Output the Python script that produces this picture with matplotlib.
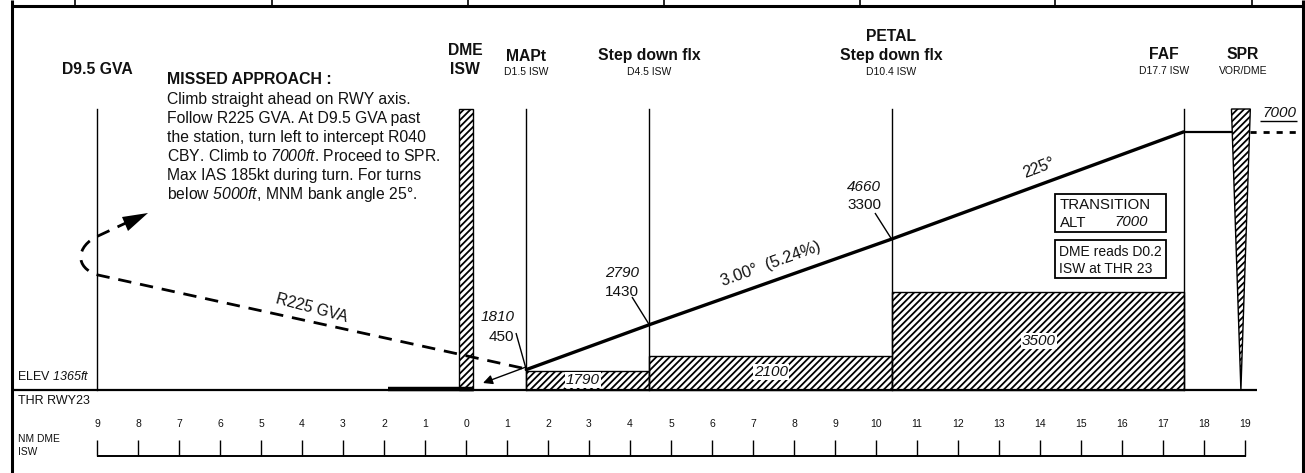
import matplotlib
matplotlib.use('Agg')
import matplotlib.pyplot as plt
from matplotlib.patches import PathPatch, Polygon, Rectangle
from matplotlib.path import Path
from matplotlib.transforms import Affine2D

plt.rcParams['font.family'] = ['Liberation Sans', 'DejaVu Sans']
plt.rcParams['mathtext.fontset'] = 'custom'
plt.rcParams['mathtext.rm'] = 'Liberation Sans'
plt.rcParams['mathtext.it'] = 'Liberation Sans:italic'
plt.rcParams['mathtext.cal'] = 'Liberation Sans:italic'  # \mathit keeps digits upright, \mathcal does not
plt.rcParams['mathtext.bf'] = 'Liberation Sans:bold'
plt.rcParams['hatch.linewidth'] = 1.3

W, H = 1305, 473

# distances in NM from ISW (negative = past the station), altitudes in ft
elev = 1365
fix_dist = [1.47, 4.47, 10.38, 17.5]
fix_alt = [1810, 2790, 4660, 7000]
fix_height = [450, 1430, 3300]
spr_dist = 18.9
d95_dist = -9
dme_dist = 0

# obstacle clearance steps
step_from = [1.47, 4.47, 10.38]
step_to = [4.47, 10.38, 17.5]
step_alt = [1790, 2100, 3500]

ruler_labels = [9, 8, 7, 6, 5, 4, 3, 2, 1, 0, 1, 2, 3, 4, 5, 6, 7, 8, 9, 10, 11, 12, 13, 14, 15, 16, 17, 18, 19]
ruler_dist = list(range(-9, 20))

top_cells = [75, 272, 468, 664, 860, 1055, 1252]

missed_text = ["Climb straight ahead on RWY axis.",
               "Follow R225 GVA. At D9.5 GVA past",
               "the station, turn left to intercept R040",
               r"CBY. Climb to $\mathcal{7000ft}$. Proceed to SPR.",
               "Max IAS 185kt during turn. For turns",
               r"below $\mathcal{5000ft}$, MNM bank angle 25°."]

# scale of the profile: 41 px per NM, 0.0458 px per ft
fig = plt.figure(figsize=(W / 100, H / 100), dpi=100)
ax = fig.add_axes([0, 0, 1, 1])
ax.set_xlim(-466 / 41, (W - 466) / 41)
ax.set_ylim(elev - (H - 390) / 0.0458, elev + 390 / 0.0458)
ax.axis('off')

# pixel coordinates for layout stuff (y downwards)
px = Affine2D().scale(1, -1).translate(0, H)


def line(xs, ys, lw=1.0, **kw):
    ax.plot(xs, ys, color='black', lw=lw, transform=px, solid_capstyle='butt', clip_on=False, **kw)


def txt(x, y, s, size=10, ha='center', **kw):
    ax.text(x, y, s, fontsize=size, ha=ha, va='center', transform=px, color='#111111', **kw)


# frame
line([12, 1303], [6, 6], lw=2.2)
line([12, 12], [0, 473], lw=2.2)
line([1303, 1303], [0, 473], lw=2.2)
for c in top_cells:
    line([c, c], [0, 6], lw=1.2)

# ground line and the runway
top_y = elev + (390 - 109) / 0.0458
ax.plot([-11.08, 19.3], [elev, elev], color='black', lw=1.6, solid_capstyle='butt')
ax.plot([-1.9, 0.2], [elev + 20, elev + 20], color='black', lw=3.2, solid_capstyle='butt', zorder=4)

# vertical fix lines
for d in [d95_dist] + fix_dist:
    ax.plot([d, d], [elev, top_y], color='black', lw=1.0)

# hatched obstacle steps
for a, b, alt in zip(step_from, step_to, step_alt):
    ax.add_patch(Rectangle((a, elev), b - a, alt - elev, facecolor='white', edgecolor='black',
                           hatch='/////', lw=1.0))

# hatched DME and SPR towers
ax.add_patch(Rectangle((dme_dist - 0.17, elev), 0.34, top_y - elev, facecolor='white', edgecolor='black',
                       hatch='/////', lw=1.0, zorder=2))
ax.add_patch(Polygon([(spr_dist - 0.23, top_y), (spr_dist + 0.23, top_y), (spr_dist, elev)], closed=True,
                     facecolor='white', edgecolor='black', hatch='/////', lw=1.0, zorder=2))

# descent profile
ax.plot(fix_dist, fix_alt, color='black', lw=2.4, zorder=4, solid_capstyle='round')
ax.plot([fix_dist[-1], spr_dist - 0.23], [fix_alt[-1], fix_alt[-1]], color='black', lw=1.6, zorder=4)
ax.plot([spr_dist + 0.23, 20.45], [fix_alt[-1], fix_alt[-1]], color='black', lw=2.0,
        dashes=(2.2, 2.5), zorder=4)

# missed approach path
verts = [(522, 368), (98, 275), (74, 268), (76, 246), (98, 236), (128, 222)]
codes = [Path.MOVETO, Path.LINETO, Path.CURVE4, Path.CURVE4, Path.CURVE4, Path.LINETO]
ax.add_patch(PathPatch(Path(verts, codes), transform=px, facecolor='none', edgecolor='black', lw=2.0,
                       linestyle=(0, (4.8, 3.2)), zorder=5, clip_on=False))
ax.add_patch(Polygon([(148, 213), (122, 217), (128, 231)], closed=True, transform=px, facecolor='black',
                     edgecolor='none', zorder=5))
ax.annotate('', xy=(483, 383), xytext=(526, 367), xycoords=px, textcoords=px,
            arrowprops=dict(arrowstyle='-|>', color='black', lw=1.0, mutation_scale=14, shrinkA=0, shrinkB=0))

# ruler
for d, lab in zip(ruler_dist, ruler_labels):
    x = 466 + 41 * d
    line([x, x], [440, 456], lw=1.0)
    txt(x, 424, str(lab), size=7.5)
line([97, 1246], [456, 456], lw=1.4)

# headers
bold = dict(size=11.3, fontweight='bold')
small = 7.5
txt(97, 69, 'D9.5 GVA', **bold)
txt(465, 50, 'DME', **bold)
txt(465, 69, 'ISW', **bold)
txt(526, 56, 'MAPt', **bold)
txt(526, 72, 'D1.5 ISW', size=small)
txt(649, 55, 'Step down flx', **bold)
txt(649, 72, 'D4.5 ISW', size=small)
txt(891, 36, 'PETAL', **bold)
txt(891, 55, 'Step down flx', **bold)
txt(891, 72, 'D10.4 ISW', size=small)
txt(1164, 54, 'FAF', **bold)
txt(1164, 71, 'D17.7 ISW', size=small)
txt(1243, 54, 'SPR', **bold)
txt(1243, 71, 'VOR/DME', size=small)

# missed approach note
txt(167, 79, 'MISSED APPROACH :', size=11.4, ha='left', fontweight='bold')
for i, s in enumerate(missed_text):
    txt(167, 99 + i * 19, s, size=11.3, ha='left')

# altitude labels with leaders
label_pos = [(498, 317, 501, 337), (622, 273, 622, 292), (864, 187, 864, 205)]
leaders = [(516, 333), (632, 297), (875, 213)]
for i in range(3):
    x1, y1, x2, y2 = label_pos[i]
    txt(x1, y1, str(fix_alt[i]), size=11, style='italic')
    txt(x2, y2, str(fix_height[i]), size=11)
    line([leaders[i][0], 466 + 41 * fix_dist[i]], [leaders[i][1], 390 - (fix_alt[i] - elev) * 0.0458], lw=1.0)

# step altitudes
white = dict(facecolor='white', edgecolor='none', pad=1.0)
txt(583, 380, str(step_alt[0]), size=11, style='italic', bbox=white, zorder=6)
txt(771, 372, str(step_alt[1]), size=11, style='italic', bbox=white, zorder=6)
txt(1039, 341, str(step_alt[2]), size=11, style='italic', bbox=white, zorder=6)

# texts along the lines
txt(1039, 168, '225°', size=11.5, rotation=21, zorder=6)
txt(771, 264, '3.00°  (5.24%)', size=11.8, rotation=20, zorder=6)
txt(312, 308, 'R225 GVA', size=11.3, rotation=-15, zorder=6)

txt(1279, 113, '7000', size=11, style='italic')
line([1260, 1297], [121, 121], lw=1.0)

# boxes
for y0, y1 in [(194, 232), (240, 278)]:
    ax.add_patch(Rectangle((1055, y0), 111, y1 - y0, transform=px, facecolor='white', edgecolor='black', lw=1.3))
txt(1060, 205, 'TRANSITION', size=10.8, ha='left')
txt(1060, 223, 'ALT', size=10.8, ha='left')
txt(1131, 222, '7000', size=10.8, style='italic')
txt(1059, 252, 'DME reads D0.2', size=10, ha='left')
txt(1059, 269, 'ISW at THR 23', size=10, ha='left')

# small labels on the left
txt(17, 376, r'ELEV $\mathcal{1365ft}$', size=9, ha='left')
txt(18, 401, 'THR RWY23', size=9, ha='left')
txt(18, 439, 'NM DME', size=7.4, ha='left')
txt(18, 452, 'ISW', size=7.4, ha='left')

fig.savefig('out.png', dpi=100, facecolor='white')
